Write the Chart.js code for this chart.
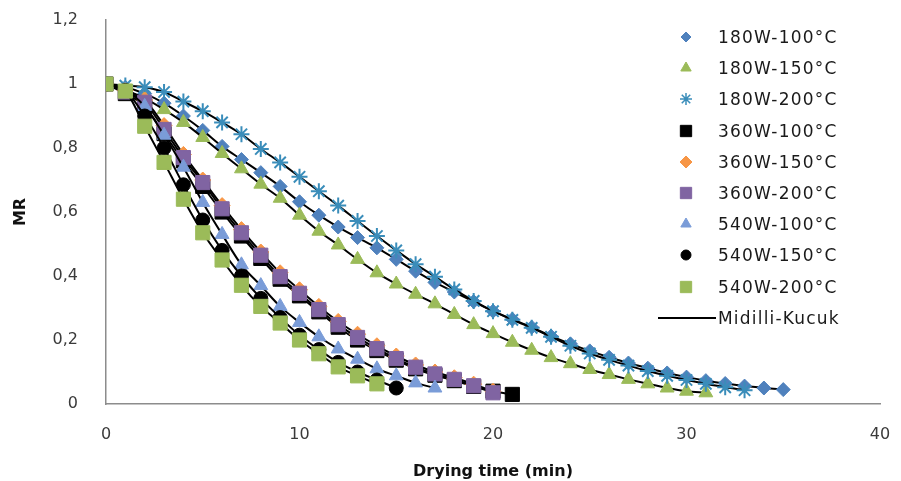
<!DOCTYPE html>
<html>
<head>
<meta charset="utf-8">
<title>MR vs drying time</title>
<script src="https://cdn.jsdelivr.net/npm/chart.js@4.4.1/dist/chart.umd.min.js"></script>
<style>
  html, body { margin: 0; padding: 0; background: #fff; }
  #wrap { position: relative; width: 901px; height: 481px; }
  #legend { position: absolute; left: 650px; top: 0; width: 250px; font-family: "DejaVu Sans", sans-serif; font-size: 17px; color: #1a1a1a; }
  .row { position: absolute; left: 0; height: 24px; width: 250px; }
  .row canvas { position: absolute; left: 14px; top: 0; }
  .row span { position: absolute; left: 68px; top: 1px; white-space: nowrap; letter-spacing: 1.2px; }
</style>
</head>
<body>
<div id="wrap">
  <canvas id="mrChart" width="901" height="481"></canvas>
  <div id="legend"></div>
</div>
<script>
// Drying time, minutes (1 min sampling)
const minutes = [0, 1, 2, 3, 4, 5, 6, 7, 8, 9, 10, 11, 12, 13, 14, 15, 16, 17, 18,
  19, 20, 21, 22, 23, 24, 25, 26, 27, 28, 29, 30, 31, 32, 33, 34, 35]

// Moisture ratio per power / temperature run
const mr180w100 = [1, 0.99, 0.97, 0.94, 0.9, 0.855, 0.805, 0.764, 0.723, 0.68, 0.632, 0.59,
  0.553, 0.52, 0.488, 0.452, 0.415, 0.38, 0.35, 0.32, 0.29, 0.265, 0.24, 0.212, 0.188,
  0.166, 0.146, 0.128, 0.112, 0.097, 0.084, 0.073, 0.064, 0.056, 0.05, 0.045]
const mr180w150 = [1, 0.98, 0.955, 0.92, 0.88, 0.833, 0.783, 0.735, 0.687, 0.643, 0.59, 0.54,
  0.497, 0.452, 0.41, 0.375, 0.343, 0.313, 0.28, 0.248, 0.22, 0.193, 0.168, 0.145, 0.126,
  0.108, 0.092, 0.077, 0.063, 0.05, 0.04, 0.035]
const mr180w200 = [1, 0.995, 0.99, 0.975, 0.945, 0.915, 0.88, 0.843, 0.797, 0.755, 0.71, 0.665,
  0.62, 0.572, 0.525, 0.48, 0.437, 0.398, 0.358, 0.322, 0.29, 0.263, 0.238, 0.21, 0.182,
  0.158, 0.138, 0.12, 0.103, 0.088, 0.075, 0.063, 0.052, 0.043]
const mr360w100 = [1, 0.97, 0.93, 0.845, 0.76, 0.68, 0.6, 0.525, 0.455, 0.39, 0.338, 0.288,
  0.24, 0.2, 0.167, 0.137, 0.11, 0.09, 0.073, 0.055, 0.04, 0.03]
const mr360w150 = [1, 0.98, 0.95, 0.87, 0.78, 0.7, 0.62, 0.545, 0.475, 0.41, 0.357, 0.305,
  0.258, 0.218, 0.182, 0.15, 0.122, 0.1, 0.082, 0.062, 0.04]
const mr360w200 = [1, 0.975, 0.943, 0.858, 0.77, 0.692, 0.61, 0.535, 0.465, 0.398, 0.346, 0.295,
  0.248, 0.208, 0.173, 0.142, 0.115, 0.094, 0.077, 0.057, 0.035]
const mr540w100 = [1, 0.98, 0.93, 0.84, 0.74, 0.63, 0.53, 0.435, 0.37, 0.305, 0.255, 0.21,
  0.172, 0.14, 0.11, 0.088, 0.066, 0.05]
const mr540w150 = [1, 0.98, 0.9, 0.8, 0.685, 0.575, 0.48, 0.4, 0.33, 0.27, 0.215, 0.17,
  0.13, 0.1, 0.075, 0.05]
const mr540w200 = [1, 0.978, 0.868, 0.755, 0.64, 0.535, 0.45, 0.371, 0.305, 0.253, 0.2, 0.157,
  0.116, 0.088, 0.063]

const yTicks = [0, 0.2, 0.4, 0.6, 0.8, 1, 1.2]
const xTicks = [0, 10, 20, 30, 40]

const series = [
  { label: "180W-100°C", values: mr180w100, color: "#4F81BD", style: "rectRot", r: 7 },
  { label: "180W-150°C", values: mr180w150, color: "#9BBB59", style: "triangle", r: 8 },
  { label: "180W-200°C", values: mr180w200, color: "#3A8DBA", style: "star", r: 8 },
  { label: "360W-100°C", values: mr360w100, color: "#000000", style: "rect", r: 10 },
  { label: "360W-150°C", values: mr360w150, color: "#F79646", style: "rectRot", r: 8 },
  { label: "360W-200°C", values: mr360w200, color: "#8064A2", style: "rect", r: 10 },
  { label: "540W-100°C", values: mr540w100, color: "#7A9CD8", style: "triangle", r: 8 },
  { label: "540W-150°C", values: mr540w150, color: "#000000", style: "circle", r: 7 },
  { label: "540W-200°C", values: mr540w200, color: "#9BBB59", style: "rect", r: 10 },
]

const tickFont = { family: "DejaVu Sans", size: 16 }
const titleFont = { family: "DejaVu Sans", size: 16, weight: "bold" }

const datasets = series.map((s, i) => ({
  label: s.label,
  data: s.values.map((v, k) => ({ x: minutes[k], y: v })),
  showLine: true,
  borderColor: "#000000",
  borderWidth: 2,
  cubicInterpolationMode: "monotone",
  pointStyle: s.style,
  pointRadius: s.r,
  pointBackgroundColor: s.color,
  pointBorderColor: s.color,
  pointBorderWidth: s.style === "star" ? 2 : 1,
  order: series.length - i, // later runs sit on top
}))

new Chart(document.getElementById("mrChart"), {
  type: "scatter",
  data: { datasets },
  options: {
    responsive: false,
    animation: false,
    devicePixelRatio: 1,
    layout: { padding: { top: 20, right: 21, left: 0, bottom: 0 } },
    plugins: { legend: { display: false }, tooltip: { enabled: false } },
    scales: {
      x: {
        type: "linear",
        min: 0,
        max: 40,
        // fixed box; tick padding should not shrink the plot area
        afterFit: (scale) => {
          scale.height = 77
          scale.paddingLeft = 0
          scale.paddingRight = 0
        },
        afterBuildTicks: (scale) => { scale.ticks = xTicks.map((v) => ({ value: v })) },
        ticks: { font: tickFont, color: "#3a3a3a", padding: 21 },
        grid: { display: false, drawTicks: false },
        border: { color: "#8c8c8c", width: 1.5 },
        title: { display: true, text: "Drying time (min)", font: titleFont, color: "#111", padding: { top: 13, bottom: 0 } },
      },
      y: {
        min: 0,
        max: 1.2,
        afterFit: (scale) => {
          scale.width = 106
          scale.paddingTop = 0
          scale.paddingBottom = 0
        },
        afterBuildTicks: (scale) => { scale.ticks = yTicks.map((v) => ({ value: v })) },
        ticks: {
          font: tickFont,
          color: "#3a3a3a",
          padding: 28,
          callback: (v) => String(Math.round(v * 10) / 10).replace(".", ","),
        },
        grid: { display: false, drawTicks: false },
        border: { color: "#8c8c8c", width: 1.5 },
        title: { display: true, text: "MR", font: titleFont, color: "#111", padding: { top: 11, bottom: 0 } },
      },
    },
  },
})

// Legend drawn over the right part of the plot
const legend = document.getElementById("legend")
const rowTop = 26
const rowStep = 31.2

series.forEach((s, i) => {
  const row = document.createElement("div")
  row.className = "row"
  row.style.top = (rowTop + i * rowStep) + "px"
  const c = document.createElement("canvas")
  c.width = 44
  c.height = 22
  const g = c.getContext("2d")
  g.fillStyle = s.color
  g.strokeStyle = s.color
  g.lineWidth = s.style === "star" ? 1.5 : 1
  Chart.helpers.drawPoint(g, { pointStyle: s.style, radius: s.r - 2, borderWidth: g.lineWidth, rotation: 0 }, 22, 11)
  const t = document.createElement("span")
  t.textContent = s.label
  row.appendChild(c)
  row.appendChild(t)
  legend.appendChild(row)
})

// model line entry
const fitRow = document.createElement("div")
fitRow.className = "row"
fitRow.style.top = (rowTop + series.length * rowStep) + "px"
const fc = document.createElement("canvas")
fc.width = 60
fc.height = 22
fc.style.left = "6px"
const fg = fc.getContext("2d")
fg.strokeStyle = "#000"
fg.lineWidth = 2
fg.beginPath()
fg.moveTo(2, 11)
fg.lineTo(60, 11)
fg.stroke()
const ft = document.createElement("span")
ft.textContent = "Midilli-Kucuk"
fitRow.appendChild(fc)
fitRow.appendChild(ft)
legend.appendChild(fitRow)
</script>
</body>
</html>
